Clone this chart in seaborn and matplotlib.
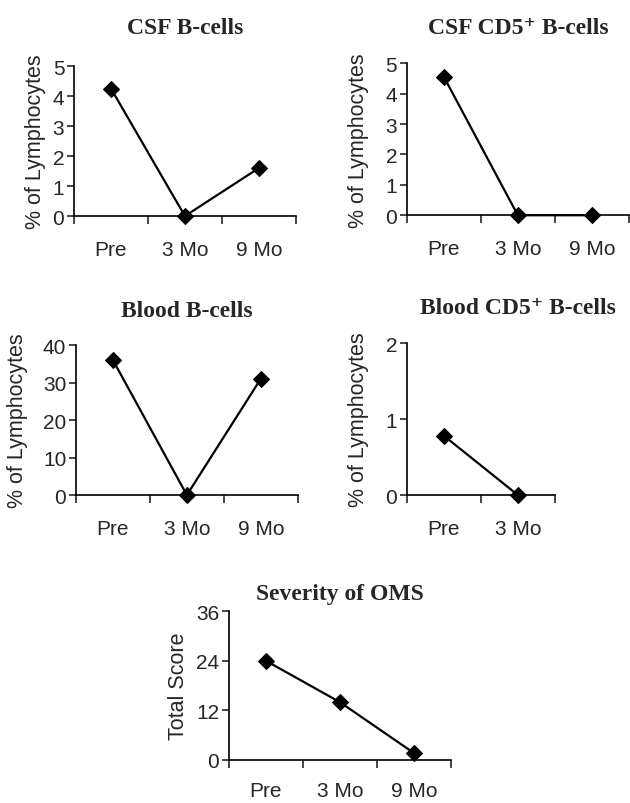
import matplotlib
matplotlib.use("Agg")
import matplotlib.pyplot as plt
import seaborn as sns
import pandas as pd

# data
timepoints = ["Pre", "3 Mo", "9 Mo"]
csf_b = [4.25, 0.0, 1.6]
csf_cd5 = [4.55, 0.0, 0.0]
blood_b = [36.0, 0.0, 31.0]
blood_cd5 = [0.78, 0.0]          # no 9 Mo value
oms_score = [24.0, 14.0, 1.7]

titles = ["CSF B-cells", "CSF CD5\u207a B-cells", "Blood B-cells",
          "Blood CD5\u207a B-cells", "Severity of OMS"]
ylabels = ["% of Lymphocytes"] * 4 + ["Total Score"]
yticks = [[0, 1, 2, 3, 4, 5], [0, 1, 2, 3, 4, 5], [0, 10, 20, 30, 40],
          [0, 1, 2], [0, 12, 24, 36]]

sns.set_theme(style="ticks")
plt.rcParams["font.family"] = ["Liberation Sans", "DejaVu Sans"]

fig = plt.figure(figsize=(6.3, 8.04), dpi=100)

# [left, bottom, width, height] in figure fraction, title pad, ylabel x, xtick pad
layout = [
    ([0.1175, 0.730, 0.352, 0.1866], 24, -0.126, 17),
    ([0.646, 0.731, 0.352, 0.189], 22, -0.171, 17),
    ([0.1206, 0.383, 0.352, 0.1866], 21, -0.216, 17),
    ([0.646, 0.383, 0.352, 0.189], 22, -0.171, 17),
    ([0.3635, 0.0535, 0.352, 0.185], 9, -0.18, 15),
]
series = [csf_b, csf_cd5, blood_b, blood_cd5, oms_score]

for i, (vals, (rect, tpad, ylx, xpad)) in enumerate(zip(series, layout)):
    ax = fig.add_axes(rect)
    cats = timepoints[:len(vals)]
    df = pd.DataFrame({"time": cats, "value": vals})
    sns.lineplot(data=df, x="time", y="value", ax=ax, sort=False,
                 color="black", linewidth=1.6, marker="D", markersize=8,
                 markeredgecolor="black", markerfacecolor="black")

    n = len(cats)
    ax.set_xlim(-0.5, 2.5)
    ax.set_ylim(yticks[i][0], yticks[i][-1])
    ax.set_yticks(yticks[i])
    ax.set_xticks(range(n))
    ax.set_xticklabels(cats)
    ax.set_xticks([k - 0.5 for k in range(n + 1)], minor=True)

    sns.despine(ax=ax)
    ax.spines["bottom"].set_bounds(-0.5, n - 0.5)
    for s in ["left", "bottom"]:
        ax.spines[s].set_linewidth(1.2)
        ax.spines[s].set_color("black")
    ax.tick_params(axis="x", which="major", length=0, pad=xpad, labelsize=15)
    ax.tick_params(axis="x", which="minor", length=6, width=1.2, direction="out")
    ax.tick_params(axis="y", length=5, width=1.2, direction="out", labelsize=15, pad=2)

    ax.set_xlabel("")
    ax.set_ylabel(ylabels[i], fontsize=15.5)
    ax.yaxis.set_label_coords(ylx, 0.5)
    ax.set_title(titles[i], fontsize=17, fontweight="bold",
                 family=["Liberation Serif", "DejaVu Serif"], pad=tpad)
    for ln in ax.lines:
        ln.set_clip_on(False)

fig.savefig("out.png", dpi=100)
